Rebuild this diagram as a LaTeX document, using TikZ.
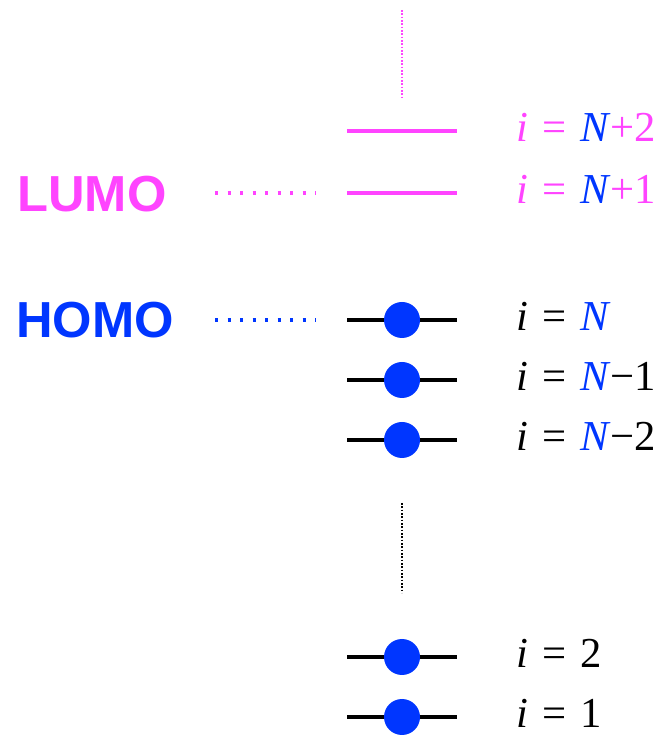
\documentclass[tikz,border=0pt]{standalone}
\usepackage{fontspec}
\setmainfont{Liberation Serif}
\newfontfamily\levelfont{Liberation Serif}
\newfontfamily\tagfont{Liberation Sans}
\usepackage{xcolor}
\usepackage{tikz}
\usetikzlibrary{calc}
\definecolor{lumopink}{HTML}{FF44FF}
\definecolor{homoblue}{HTML}{0036FF}
\newcommand{\eqsign}{\hspace{0.33em}=\hspace{0.33em}}

\begin{document}
\begin{tikzpicture}[x=0.75pt, y=0.75pt,
        orbital/.style={line width=2.5pt, line cap=butt},
        electron/.style={fill=homoblue},
        levellabel/.style={anchor=base west, inner sep=0pt, font=\levelfont\fontsize{32pt}{36pt}\selectfont},
        fronttag/.style={anchor=base west, inner sep=0pt, font=\tagfont\bfseries\fontsize{38pt}{40pt}\selectfont},
        guide/.style={line width=2.6pt, dash pattern=on 2.4pt off 7pt},
        gapdots/.style={line width=1pt, dash pattern=on 1.2pt off 1.3pt}]
        \useasboundingbox (0,0) rectangle (665,736);

        % Level centres
        \coordinate (lvNp2) at (402,605);
        \coordinate (lvNp1) at (402,543);
        \coordinate (lvN)   at (402,416);
        \coordinate (lvNm1) at (402,356);
        \coordinate (lvNm2) at (402,296);
        \coordinate (lv2)   at (402,79);
        \coordinate (lv1)   at (402,19);

        % ----------------------------------------------------
        % Empty levels (LUMO and above)
        % ----------------------------------------------------
        \draw[gapdots, color=lumopink] ($(lvNp2)+(0,121)$) -- ($(lvNp2)+(0,33)$);
        \draw[orbital, color=lumopink] ($(lvNp2)+(-55,0)$) -- ($(lvNp2)+(55,0)$);
        \draw[orbital, color=lumopink] ($(lvNp1)+(-55,0)$) -- ($(lvNp1)+(55,0)$);
        \node[levellabel, color=lumopink] (labNp2) at (516,594) {\textit{i}\eqsign\textcolor{homoblue}{\textit{N}}+2};
        \node[levellabel, color=lumopink] (labNp1) at (516,532) {\textit{i}\eqsign\textcolor{homoblue}{\textit{N}}+1};

        \node[fronttag, color=lumopink] (lumo) at (17,524) {LUMO};
        \coordinate (lumoA) at (215,543);
        \coordinate (lumoB) at (316,543);
        \draw[guide, color=lumopink] (lumoA) -- (lumoB);

        % ----------------------------------------------------
        % Filled levels (HOMO and below)
        % ----------------------------------------------------
        \draw[orbital] ($(lvN)+(-55,0)$) -- ($(lvN)+(55,0)$);
        \fill[electron] (lvN) circle (18);
        \draw[orbital] ($(lvNm1)+(-55,0)$) -- ($(lvNm1)+(55,0)$);
        \fill[electron] (lvNm1) circle (18);
        \draw[orbital] ($(lvNm2)+(-55,0)$) -- ($(lvNm2)+(55,0)$);
        \fill[electron] (lvNm2) circle (18);
        \node[levellabel] (labN)   at (516,405) {\textit{i}\eqsign\textcolor{homoblue}{\textit{N}}};
        \node[levellabel] (labNm1) at (516,345) {\textit{i}\eqsign\textcolor{homoblue}{\textit{N}}−1};
        \node[levellabel] (labNm2) at (516,285) {\textit{i}\eqsign\textcolor{homoblue}{\textit{N}}−2};

        \node[fronttag, color=homoblue] (homo) at (16,398) {HOMO};
        \coordinate (homoA) at (215,416);
        \coordinate (homoB) at (316,416);
        \draw[guide, color=homoblue] (homoA) -- (homoB);

        \draw[gapdots] ($(lvNm2)+(0,-63)$) -- ($(lv2)+(0,64)$);

        \draw[orbital] ($(lv2)+(-55,0)$) -- ($(lv2)+(55,0)$);
        \fill[electron] (lv2) circle (18);
        \draw[orbital] ($(lv1)+(-55,0)$) -- ($(lv1)+(55,0)$);
        \fill[electron] (lv1) circle (18);
        \node[levellabel] (lab2) at (516,68) {\textit{i}\eqsign 2};
        \node[levellabel] (lab1) at (516,8)  {\textit{i}\eqsign 1};
    \end{tikzpicture}
\end{document}
